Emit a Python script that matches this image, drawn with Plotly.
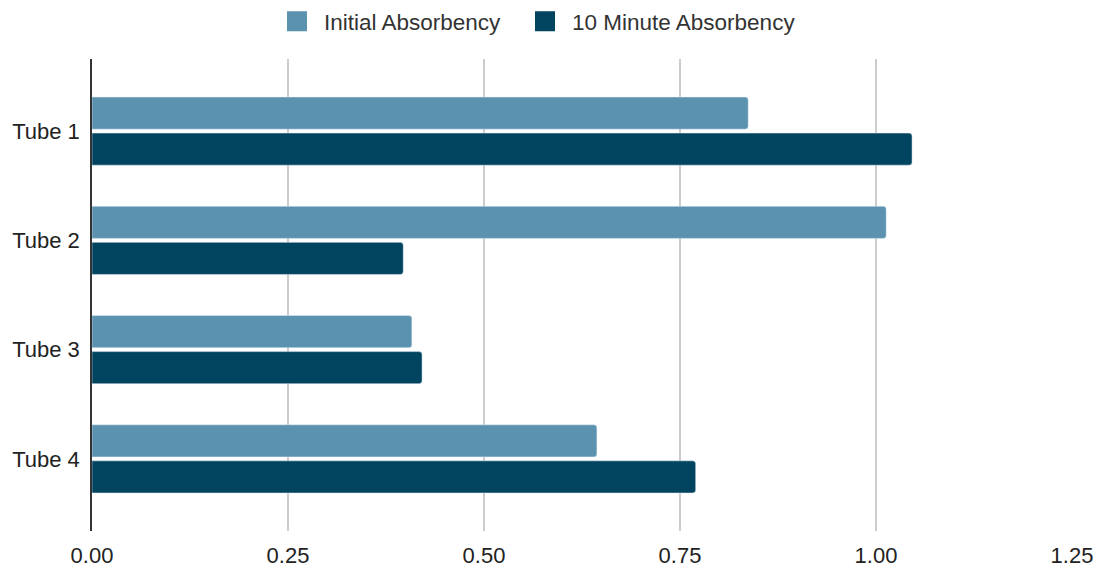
import plotly.graph_objects as go

categories = ["Tube 1", "Tube 2", "Tube 3", "Tube 4"]
initial_absorbency = [0.837, 1.013, 0.408, 0.644]
ten_minute_absorbency = [1.046, 0.397, 0.421, 0.770]
x_ticks = [0, 0.25, 0.5, 0.75, 1.0, 1.25]
x_tick_labels = ["0.00", "0.25", "0.50", "0.75", "1.00", "1.25"]

light = "#5a92af"
dark = "#01445f"
font = "Liberation Sans, Arial, sans-serif"
W, H = 1103, 571

fig = go.Figure()
fig.add_trace(go.Bar(y=categories, x=initial_absorbency, orientation="h",
                     name="Initial Absorbency", marker=dict(color=light, cornerradius=3),
                     showlegend=False, legendgroup="a"))
fig.add_trace(go.Bar(y=categories, x=ten_minute_absorbency, orientation="h",
                     name="10 Minute Absorbency", marker=dict(color=dark, cornerradius=3),
                     showlegend=False, legendgroup="b"))
# legend swatches
fig.add_trace(go.Scatter(x=[None], y=[None], mode="markers", name="Initial Absorbency",
                         marker=dict(symbol="square", size=16, color=light,
                                     line=dict(color=light, width=4)),
                         legendgroup="a", legend="legend"))
fig.add_trace(go.Scatter(x=[None], y=[None], mode="markers", name="10 Minute Absorbency",
                         marker=dict(symbol="square", size=16, color=dark,
                                     line=dict(color=dark, width=4)),
                         legendgroup="b", legend="legend2"))

legend_common = dict(orientation="h", xanchor="left", xref="container",
                     y=1.0, yanchor="top", yref="container", itemwidth=44,
                     font=dict(size=22.5, color="#333333"), itemclick=False,
                     bgcolor="rgba(0,0,0,0)")

fig.update_layout(
    width=W, height=H,
    margin=dict(l=92, r=31, t=59, b=40, autoexpand=False),
    paper_bgcolor="white", plot_bgcolor="white",
    font=dict(family=font, size=22, color="#222222"),
    barmode="group", bargap=0.34, bargroupgap=0.11,
    legend=dict(x=270 / W, **legend_common),
    legend2=dict(x=518 / W, **legend_common),
    xaxis=dict(range=[0, 1.25], tickvals=x_ticks, ticktext=x_tick_labels,
               tickfont=dict(size=22), ticklabelstandoff=9, automargin=False,
               showgrid=True, gridcolor="#cccccc", gridwidth=1.5,
               zeroline=False, showline=False, ticks="", fixedrange=True),
    yaxis=dict(type="category", categoryorder="array", categoryarray=categories,
               range=[3.66, -0.66], showline=True, linecolor="#333333", linewidth=1.5,
               showgrid=False, ticks="", ticklabelstandoff=6, automargin=False,
               fixedrange=True),
)

fig.write_html("out.html", config={"displayModeBar": False},
               post_script="document.body.style.margin='0';document.body.style.padding='0';")
